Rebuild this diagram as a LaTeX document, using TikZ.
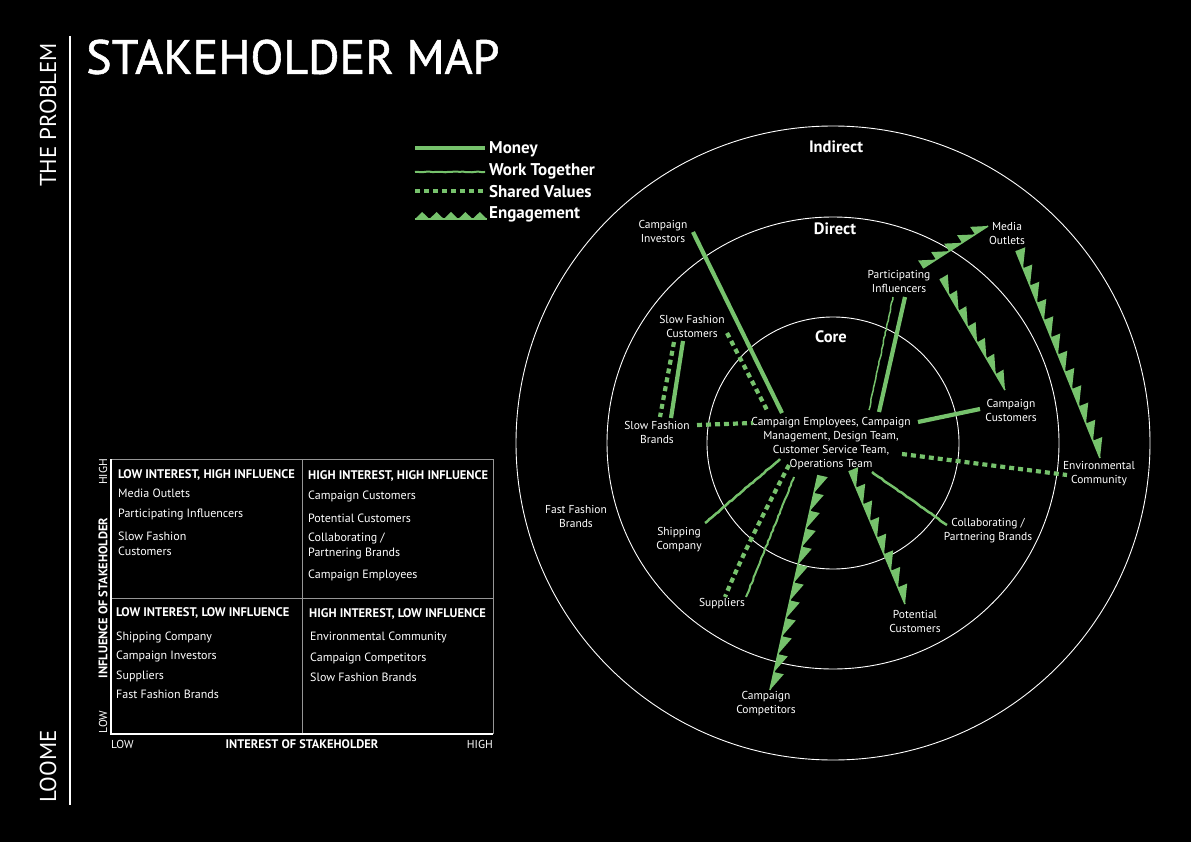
\documentclass[tikz,border=0pt]{standalone}
\usepackage{fontspec}
\setmainfont{PT Sans}
\newfontfamily\titlefont[FakeBold=1.2]{PT Sans}
\usetikzlibrary{calc,decorations.pathmorphing}
\definecolor{lg}{RGB}{118,194,108}
\definecolor{gridc}{RGB}{150,150,150}
% #1 start, #2 end, #3 teeth, #4 apex fraction, #5 tooth height
\newcommand\engagement[5]{%
  \draw[engline] (#1) -- (#2);
  \foreach \k in {1,...,#3}{%
    \pgfmathsetmacro\ta{(\k-1)/#3}%
    \pgfmathsetmacro\tb{\k/#3}%
    \pgfmathsetmacro\tc{\ta+#4*(\tb-\ta)}%
    \fill[lg] ($(#1)!\ta!(#2)$) -- ($(#1)!\tc!(#2)!#5!90:(#2)$) -- ($(#1)!\tb!(#2)$) -- cycle;
  }}
\begin{document}
\begin{tikzpicture}[x=1pt,y=-1pt,
  lbl/.style={text=white,align=center,font=\fontsize{11.5}{14}\selectfont,inner sep=0pt},
  ring/.style={draw=white,line width=0.9pt},
  ringlbl/.style={text=white,font=\bfseries\fontsize{16.5}{18}\selectfont,inner sep=0pt},
  money/.style={draw=lg,line width=4.2pt},
  shared/.style={draw=lg,line width=4.2pt,dash pattern=on 5pt off 4pt},
  worktog/.style={draw=lg,line width=2pt,decorate,decoration={random steps,segment length=3pt,amplitude=0.4pt}},
  engline/.style={draw=lg,line width=1.6pt},
  leg/.style={text=white,anchor=west,font=\bfseries\fontsize{17}{19}\selectfont,inner sep=0pt},
  qhead/.style={text=white,anchor=west,font=\bfseries\fontsize{12.5}{14}\selectfont,inner sep=0pt},
  qitem/.style={text=white,anchor=west,align=left,font=\fontsize{12}{15}\selectfont,inner sep=0pt},
  axb/.style={text=white,font=\bfseries\fontsize{12.4}{14}\selectfont,inner sep=0pt},
  axl/.style={text=white,font=\fontsize{11.5}{13}\selectfont,inner sep=0pt},
  side/.style={text=white,font=\fontsize{23}{25}\selectfont,inner sep=0pt,rotate=90}
  ]
\pgfmathsetseed{7}
\fill[black] (0,0) rectangle (1191,842);
\useasboundingbox (0,0) rectangle (1191,842);

% side bar
\draw[white,line width=1.2pt] (70,36) -- (70,805);
\node[side,anchor=west] (prob) at (48,187) {THE PROBLEM};
\node[side,anchor=west] (loome) at (48,803) {LOOME};
\node[text=white,anchor=west,inner sep=0pt,font=\titlefont\fontsize{48}{52}\selectfont] (title) at (86,57) {STAKEHOLDER MAP};

% legend
\coordinate (l1a) at (415,148); \coordinate (l1b) at (485,148);
\coordinate (l2a) at (415,172); \coordinate (l2b) at (485,172);
\coordinate (l3a) at (415,191); \coordinate (l3b) at (485,191);
\coordinate (l4a) at (415,219); \coordinate (l4b) at (487,219);
\draw[money] (l1a) -- (l1b);
\draw[worktog] (l2a) -- (l2b);
\draw[shared] (l3a) -- (l3b);
\engagement{l4a}{l4b}{5}{0.5}{7pt}
\node[leg] (lmoney) at (489,149) {Money};
\node[leg] (lwork) at (489,171) {Work Together};
\node[leg] (lshared) at (489,192) {Shared Values};
\node[leg] (leng) at (489,214) {Engagement};

% rings
\coordinate (ctr) at (833,443);
\draw[ring] (ctr) circle[radius=317];
\draw[ring] (ctr) circle[radius=226];
\draw[ring] (ctr) circle[radius=126];
\node[ringlbl] (indirect) at (836,147) {Indirect};
\node[ringlbl] (direct) at (835,229) {Direct};
\node[ringlbl] (corelbl) at (831,337) {Core};

% stakeholder labels
\node[lbl] (inv) at (663,231) {Campaign\\Investors};
\node[lbl] (media) at (1007,233) {Media\\Outlets};
\node[lbl] (part) at (899,281) {Participating\\Influencers};
\node[lbl] (sfc) at (692,326) {Slow Fashion\\Customers};
\node[lbl] (ccust) at (1011,410) {Campaign\\Customers};
\node[lbl] (sfb) at (657,432) {Slow Fashion\\Brands};
\node[lbl] (core) at (831,443.5) {Campaign Employees, Campaign\\Management, Design Team,\\Customer Service Team,\\Operations Team};
\node[lbl] (env) at (1099,474) {Environmental\\Community};
\node[lbl] (ffb) at (576,516) {Fast Fashion\\Brands};
\node[lbl] (collab) at (988,531) {Collaborating /\\Partnering Brands};
\node[lbl] (ship) at (679,540) {Shipping\\Company};
\node[lbl] (sup) at (722,604) {Suppliers};
\node[lbl] (pot) at (915,621) {Potential\\Customers};
\node[lbl] (comp) at (766,704) {Campaign\\Competitors};

% connector end points
\coordinate (invA) at (693,232); \coordinate (invB) at (782,413);
\coordinate (sfcA) at (727,333); \coordinate (sfcB) at (768,412);
\coordinate (sfm1) at (683,341); \coordinate (sfm2) at (671,418);
\coordinate (sfd1) at (674,342); \coordinate (sfd2) at (660,417);
\coordinate (sfbA) at (697,425); \coordinate (sfbB) at (753,423);
\coordinate (pm1) at (905,297); \coordinate (pm2) at (879,412);
\coordinate (pw1) at (893,297); \coordinate (pw2) at (869,410);
\coordinate (pmA) at (923,268); \coordinate (pmB) at (988,226);
\coordinate (pcA) at (940,279); \coordinate (pcB) at (1005,390);
\coordinate (meA) at (1016,251); \coordinate (meB) at (1100,458);
\coordinate (ccA) at (918,422); \coordinate (ccB) at (980,409);
\coordinate (enA) at (902,454); \coordinate (enB) at (1067,475);
\coordinate (coA) at (872,472); \coordinate (coB) at (947,525);
\coordinate (shA) at (780,459); \coordinate (shB) at (705,523);
\coordinate (suA) at (789,465); \coordinate (suB) at (725,597);
\coordinate (swA) at (794,477); \coordinate (swB) at (746,597);
\coordinate (cpA) at (818,475); \coordinate (cpB) at (770,690);
\coordinate (poA) at (849,471); \coordinate (poB) at (905,604);

% connectors
\draw[money] (invA) -- (invB);
\draw[shared] (sfcA) -- (sfcB);
\draw[money] (sfm1) -- (sfm2);
\draw[shared] (sfd1) -- (sfd2);
\draw[shared] (sfbA) -- (sfbB);
\draw[money] (pm1) -- (pm2);
\draw[worktog,line width=1.5pt] (pw1) -- (pw2);
\engagement{pmA}{pmB}{5}{0}{9pt}
\engagement{pcA}{pcB}{7}{0}{9pt}
\engagement{meA}{meB}{12}{0}{10pt}
\draw[money] (ccA) -- (ccB);
\draw[shared] (enA) -- (enB);
\draw[worktog,line width=2.5pt] (coA) -- (coB);
\draw[worktog,line width=2.5pt] (shA) -- (shB);
\draw[shared] (suA) .. controls (768,505) and (742,555) .. (suB);
\draw[worktog] (swA) -- (swB);
\engagement{cpA}{cpB}{12}{0}{10pt}
\engagement{poA}{poB}{8}{0}{10pt}

% matrix
\draw[gridc,line width=0.8pt] (111,459) -- (493,459) -- (493,734);
\draw[gridc,line width=0.8pt] (302,459) -- (302,734);
\draw[gridc,line width=0.8pt] (111,598) -- (493,598);
\draw[white,line width=1.2pt] (111,459) -- (111,734) -- (493,734);

\node[axb,rotate=90] (yax) at (103,598) {INFLUENCE OF STAKEHOLDER};
\node[axl,rotate=90] (yhi) at (103,472) {HIGH};
\node[axl,rotate=90] (ylo) at (103,722) {LOW};
\node[axl,anchor=west] (xlo) at (111,744) {LOW};
\node[axb] (xax) at (302,744) {INTEREST OF STAKEHOLDER};
\node[axl,anchor=east] (xhi) at (493,744) {HIGH};

\node[qhead] (tlh) at (118,475) {LOW INTEREST, HIGH INFLUENCE};
\node[qitem] (tl1) at (118,493) {Media Outlets};
\node[qitem] (tl2) at (118,514) {Participating Influencers};
\node[qitem] (tl3) at (118,543.5) {Slow Fashion\\Customers};

\node[qhead] (trh) at (308,476) {HIGH INTEREST, HIGH INFLUENCE};
\node[qitem] (tr1) at (308,496) {Campaign Customers};
\node[qitem] (tr2) at (308,518) {Potential Customers};
\node[qitem] (tr3) at (308,545.5) {Collaborating /\\Partnering Brands};
\node[qitem] (tr4) at (308,575) {Campaign Employees};

\node[qhead] (blh) at (116,613) {LOW INTEREST, LOW INFLUENCE};
\node[qitem] (bl1) at (116,637) {Shipping Company};
\node[qitem] (bl2) at (116,656) {Campaign Investors};
\node[qitem] (bl3) at (116,676) {Suppliers};
\node[qitem] (bl4) at (116,694) {Fast Fashion Brands};

\node[qhead] (brh) at (309,614) {HIGH INTEREST, LOW INFLUENCE};
\node[qitem] (br1) at (310,637) {Environmental Community};
\node[qitem] (br2) at (310,658) {Campaign Competitors};
\node[qitem] (br3) at (310,677) {Slow Fashion Brands};
\end{tikzpicture}
\end{document}
